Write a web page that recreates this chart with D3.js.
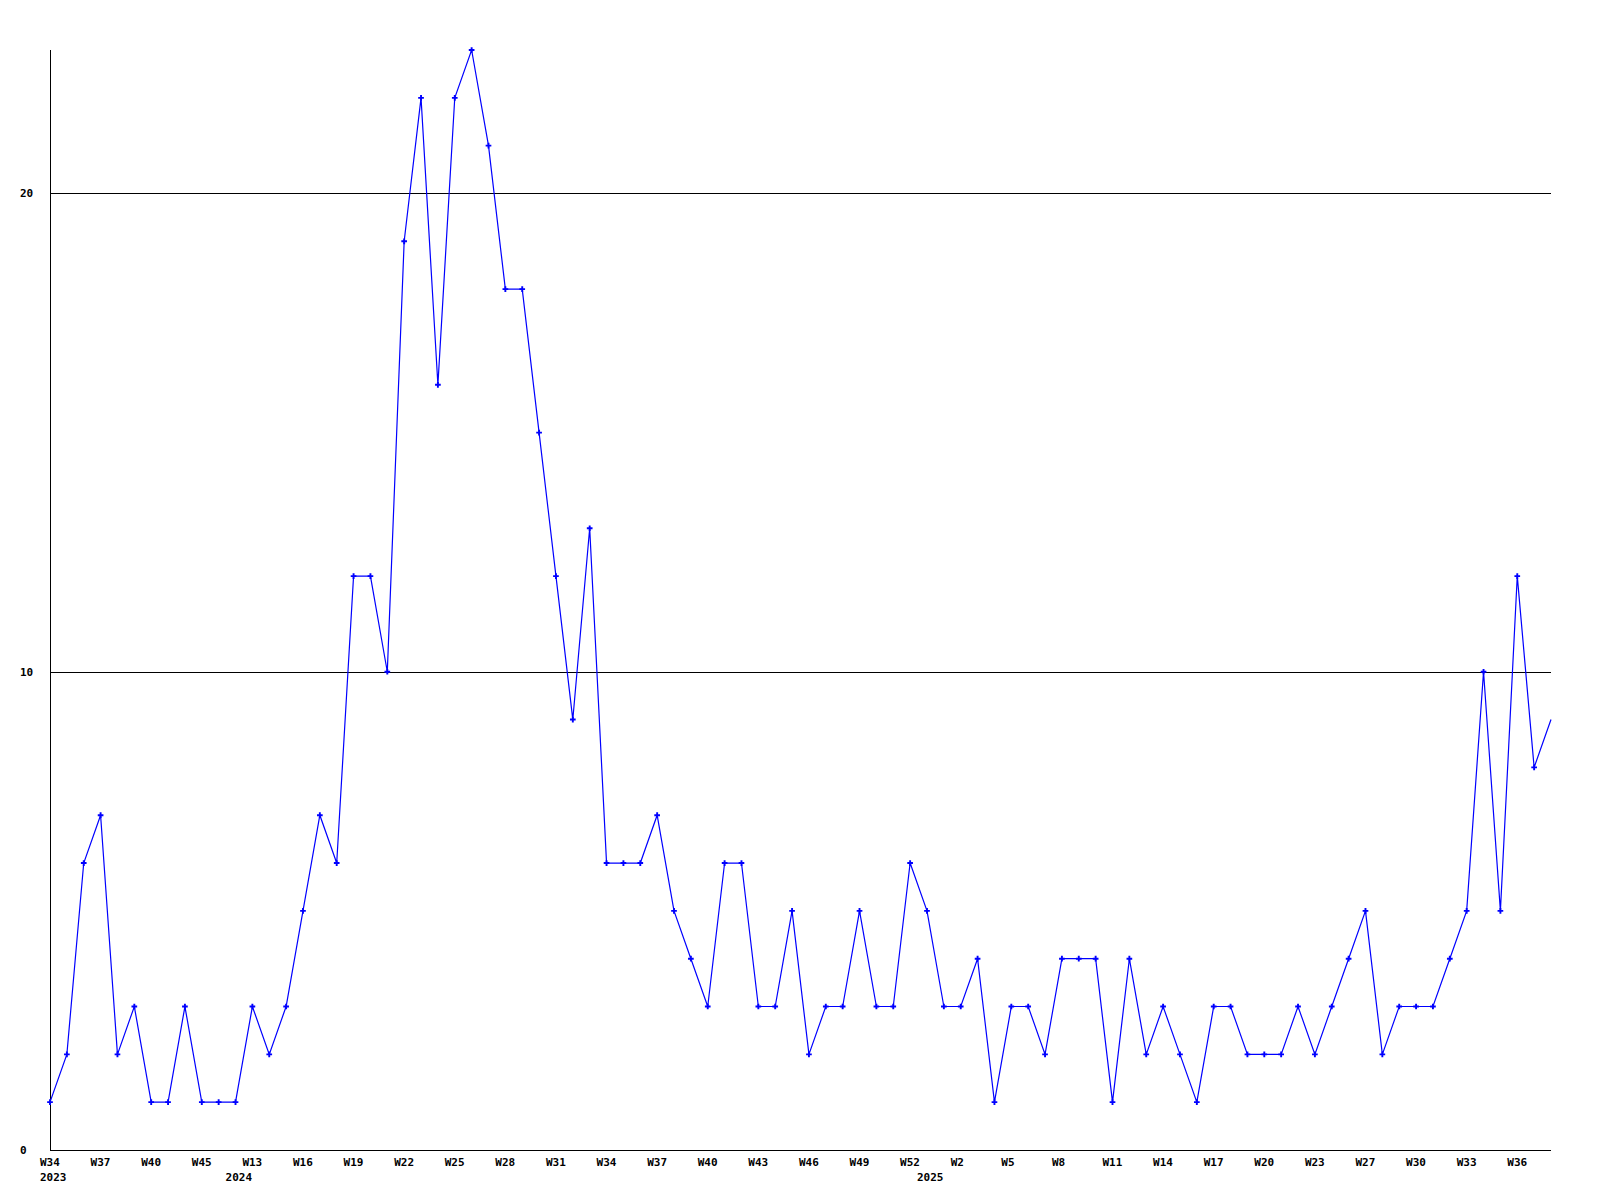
<!DOCTYPE html>
<html>
<head>
<meta charset="utf-8">
<script src="https://cdn.jsdelivr.net/npm/d3@7"></script>
<style>
  html, body { margin: 0; padding: 0; background: #fff; }
  svg { display: block; }
  .lbl { font-family: "DejaVu Sans Mono", monospace; font-size: 11px; font-weight: bold; fill: #000; }
</style>
</head>
<body>
<svg id="chart" width="1600" height="1200"></svg>
<script>
const WIDTH = 1600;
const HEIGHT = 1200;
const MARGIN = { left: 50, right: 49, top: 50, bottom: 50 };

// week labels (one per data point), year of each point
const weeks = [
  "W34","W35","W36","W37","W38","W39","W40","W42","W44","W45","W50","W12",
  "W13","W14","W15","W16","W17","W18","W19","W20","W21","W22","W23","W24",
  "W25","W26","W27","W28","W29","W30","W31","W32","W33","W34","W35","W36",
  "W37","W38","W39","W40","W41","W42","W43","W44","W45","W46","W47","W48",
  "W49","W50","W51","W52","W0","W1","W2","W3","W4","W5","W6","W7",
  "W8","W9","W10","W11","W12","W13","W14","W15","W16","W17","W18","W19",
  "W20","W21","W22","W23","W25","W26","W27","W28","W29","W30","W31","W32",
  "W33","W34","W35","W36","W37","W38"
];
const years = [
  2023,2023,2023,2023,2023,2023,2023,2023,2023,2023,2023,2024,
  2024,2024,2024,2024,2024,2024,2024,2024,2024,2024,2024,2024,
  2024,2024,2024,2024,2024,2024,2024,2024,2024,2024,2024,2024,
  2024,2024,2024,2024,2024,2024,2024,2024,2024,2024,2024,2024,
  2024,2024,2024,2024,2025,2025,2025,2025,2025,2025,2025,2025,
  2025,2025,2025,2025,2025,2025,2025,2025,2025,2025,2025,2025,
  2025,2025,2025,2025,2025,2025,2025,2025,2025,2025,2025,2025,
  2025,2025,2025,2025,2025,2025
];
const counts = [
  1,2,6,7,2,3,1,1,3,1,1,1,
  3,2,3,5,7,6,12,12,10,19,22,16,
  22,23,21,18,18,15,12,9,13,6,6,6,
  7,5,4,3,6,6,3,3,5,2,3,3,
  5,3,3,6,5,3,3,4,1,3,3,2,
  4,4,4,1,4,2,3,2,1,3,3,2,
  2,2,3,2,3,4,5,2,3,3,3,4,
  5,10,5,12,8,9
];
const yTicks = [0, 10, 20];
const Y_MAX = 23;
const LABEL_EVERY = 3;

const svg = d3.select("#chart");
const idx = d3.range(counts.length);

const x = d3.scalePoint()
  .domain(idx)
  .range([MARGIN.left, WIDTH - MARGIN.right]);

const y = d3.scaleLinear()
  .domain([0, Y_MAX])
  .range([HEIGHT - MARGIN.bottom, MARGIN.top]);

const x0 = MARGIN.left, x1 = WIDTH - MARGIN.right;

// horizontal grid lines at tick values (not at 0, axis drawn separately)
svg.append("g")
  .selectAll("line")
  .data(yTicks.filter(t => t > 0))
  .join("line")
  .attr("x1", x0).attr("x2", x1)
  .attr("y1", d => Math.round(y(d)) + 0.5)
  .attr("y2", d => Math.round(y(d)) + 0.5)
  .attr("stroke", "#000")
  .attr("stroke-width", 1);

// axes
svg.append("line")
  .attr("x1", x0 + 0.5).attr("x2", x0 + 0.5)
  .attr("y1", MARGIN.top).attr("y2", Math.round(y(0)) + 0.5)
  .attr("stroke", "#000");
svg.append("line")
  .attr("x1", x0).attr("x2", x1)
  .attr("y1", Math.round(y(0)) + 0.5).attr("y2", Math.round(y(0)) + 0.5)
  .attr("stroke", "#000");

// y tick labels, left aligned
svg.append("g")
  .selectAll("text")
  .data(yTicks)
  .join("text")
  .attr("class", "lbl")
  .attr("x", 20)
  .attr("y", d => y(d) + 4)
  .text(d => d);

// x week labels (every 3rd point), left edge 10px before the point
const shown = idx.filter(i => i % LABEL_EVERY === 0);
svg.append("g")
  .selectAll("text")
  .data(shown)
  .join("text")
  .attr("class", "lbl")
  .attr("x", i => x(i) - 10)
  .attr("y", HEIGHT - MARGIN.bottom + 16)
  .text(i => weeks[i]);

// year labels where the year changes
const yearStarts = idx.filter(i => i === 0 || years[i] !== years[i - 1]);
svg.append("g")
  .selectAll("text")
  .data(yearStarts)
  .join("text")
  .attr("class", "lbl")
  .attr("x", i => x(i) - 10)
  .attr("y", HEIGHT - MARGIN.bottom + 31)
  .text(i => years[i]);

// series line
const line = d3.line()
  .x(i => x(i))
  .y(i => y(counts[i]));

svg.append("path")
  .datum(idx)
  .attr("d", line)
  .attr("fill", "none")
  .attr("stroke", "#0000ff")
  .attr("stroke-width", 1.2);

// small cross markers (last point sits on the edge and has none)
const cross = d3.symbol().type(d3.symbolCross).size(18);
svg.append("g")
  .selectAll("path")
  .data(idx.slice(0, -1))
  .join("path")
  .attr("transform", i => `translate(${x(i)},${y(counts[i])})`)
  .attr("d", cross)
  .attr("fill", "#0000ff");
</script>
</body>
</html>
